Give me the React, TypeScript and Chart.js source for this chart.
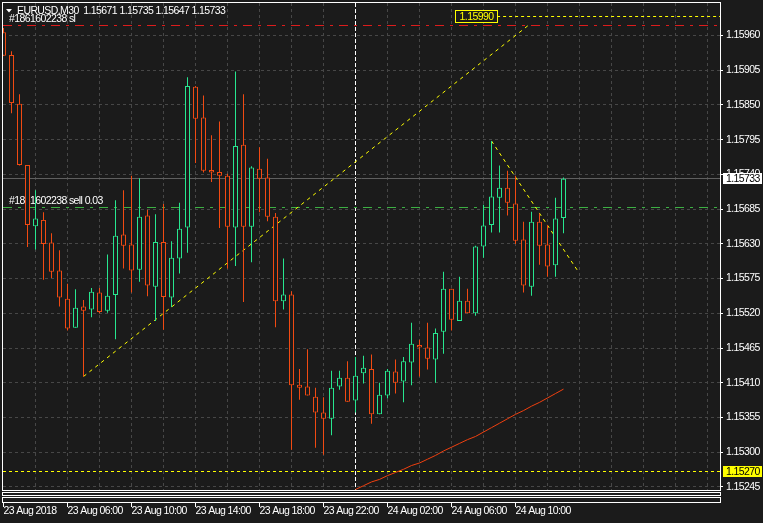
import React, { useEffect, useRef } from 'react';
import { Chart, registerables } from 'chart.js';

Chart.register(...registerables);

// ---------------- data ----------------
const SYMBOL = 'EURUSD,M30';

const OPEN = [
  1.15965, 1.15929, 1.15852, 1.15755, 1.15658, 1.15668, 1.15632, 1.15588, 1.15543, 1.15497,
  1.15531, 1.15526, 1.15553, 1.15524, 1.15549, 1.15645, 1.15629, 1.15589, 1.15675, 1.15562,
  1.15633, 1.15545, 1.15607, 1.15656, 1.15879, 1.15830, 1.15747, 1.15744, 1.15738, 1.15656,
  1.15787, 1.15657, 1.15749, 1.15735, 1.15673, 1.15539, 1.15550, 1.15407, 1.15404, 1.15388,
  1.15363, 1.15353, 1.15404, 1.15418, 1.15382, 1.15425, 1.15432, 1.15360, 1.15390, 1.15428,
  1.15412, 1.15442, 1.15470, 1.15466, 1.15447, 1.15491, 1.15559, 1.15508, 1.15540, 1.15520,
  1.15626, 1.15660, 1.15703, 1.15719, 1.15694, 1.15637, 1.15562, 1.15665, 1.15629, 1.15596,
  1.15671,
];
const HIGH = [
  1.15972, 1.15935, 1.15867, 1.15755, 1.15715, 1.15680, 1.15647, 1.15620, 1.15567, 1.15558,
  1.15541, 1.15560, 1.15560, 1.15613, 1.15699, 1.15715, 1.15738, 1.15734, 1.15684, 1.15677,
  1.15693, 1.15634, 1.15695, 1.15894, 1.15880, 1.15865, 1.15802, 1.15824, 1.15741, 1.15903,
  1.15867, 1.15753, 1.15783, 1.15765, 1.15679, 1.15607, 1.15555, 1.15432, 1.15463, 1.15402,
  1.15387, 1.15429, 1.15429, 1.15444, 1.15451, 1.15453, 1.15455, 1.15410, 1.15432, 1.15447,
  1.15451, 1.15505, 1.15478, 1.15505, 1.15496, 1.15586, 1.15559, 1.15578, 1.15559, 1.15627,
  1.15692, 1.15793, 1.15754, 1.15746, 1.15738, 1.15665, 1.15681, 1.15678, 1.15660, 1.15703,
  1.15735,
];
const LOW = [
  1.15928, 1.15837, 1.15754, 1.15625, 1.15621, 1.15573, 1.15576, 1.15531, 1.15493, 1.15497,
  1.15420, 1.15514, 1.15520, 1.15521, 1.15479, 1.15591, 1.15553, 1.15570, 1.15547, 1.15508,
  1.15494, 1.15530, 1.15583, 1.15616, 1.15758, 1.15743, 1.15728, 1.15655, 1.15591, 1.15595,
  1.15538, 1.15601, 1.15680, 1.15666, 1.15498, 1.15526, 1.15304, 1.15383, 1.15390, 1.15307,
  1.15296, 1.15327, 1.15399, 1.15380, 1.15363, 1.15409, 1.15345, 1.15360, 1.15385, 1.15393,
  1.15379, 1.15406, 1.15420, 1.15431, 1.15410, 1.15456, 1.15493, 1.15508, 1.15520, 1.15516,
  1.15608, 1.15648, 1.15648, 1.15675, 1.15630, 1.15553, 1.15548, 1.15597, 1.15578, 1.15578,
  1.15647,
];
const CLOSE = [
  1.15928, 1.15853, 1.15755, 1.15660, 1.15670, 1.15630, 1.15586, 1.15545, 1.15496, 1.15529,
  1.15524, 1.15554, 1.15522, 1.15548, 1.15643, 1.15627, 1.15588, 1.15673, 1.15564, 1.15633,
  1.15546, 1.15608, 1.15654, 1.15880, 1.15828, 1.15746, 1.15743, 1.15738, 1.15657, 1.15785,
  1.15657, 1.15751, 1.15733, 1.15673, 1.15539, 1.15550, 1.15406, 1.15402, 1.15390, 1.15363,
  1.15353, 1.15402, 1.15418, 1.15380, 1.15421, 1.15434, 1.15360, 1.15391, 1.15429, 1.15410,
  1.15444, 1.15472, 1.15466, 1.15448, 1.15489, 1.15559, 1.15510, 1.15540, 1.15520, 1.15626,
  1.15659, 1.15705, 1.15719, 1.15695, 1.15635, 1.15564, 1.15665, 1.15627, 1.15594, 1.15670,
  1.15733,
];

// indicator line (starts at bar 44)
const MA_START = 44;
const MA_LINE = [
  1.15241, 1.15247, 1.15253, 1.15257, 1.15263, 1.15268, 1.15273, 1.15279, 1.15283, 1.15289,
  1.15295, 1.15302, 1.15308, 1.15314, 1.15320, 1.15325, 1.15332, 1.15339, 1.15346, 1.15353,
  1.15360, 1.15366, 1.15373, 1.15379, 1.15386, 1.15393, 1.15400,
];

// trend lines (bar index, price)
const TREND_UP_X = [10, 65.7];
const TREND_UP_Y = [1.1542, 1.15977];
const TREND_DOWN_X = [61, 71.9];
const TREND_DOWN_Y = [1.15793, 1.15585];

// horizontal levels
const SL_PRICE = 1.15976;
const SL_LABEL = '#1861602238 sl';
const ORDER_PRICE = 1.15688;
const ORDER_LABEL = '#1861602238 sell 0.03';
const BID_PRICE = 1.15733;
const LEVEL_LOW = 1.1527;
const LEVEL_HIGH = 1.1599;
const LEVEL_HIGH_START = 61.7;
const SEPARATOR_BAR = 44;

// axes
const Y_TICKS = [
  1.15245, 1.153, 1.15355, 1.1541, 1.15465, 1.1552, 1.15575,
  1.1563, 1.15685, 1.1574, 1.15795, 1.1585, 1.15905, 1.1596,
];
const Y_TICK_LABELS = [
  '1.15245', '1.15300', '1.15355', '1.15410', '1.15465', '1.15520', '1.15575',
  '1.15630', '1.15685', '1.15740', '1.15795', '1.15850', '1.15905', '1.15960',
];
const X_GRID = [0, 4, 8, 12, 16, 20, 24, 28, 32, 36, 40, 44, 48, 52, 56, 60, 64, 68, 72, 76, 80, 84, 88];
const TIME_TICKS = [0, 8, 16, 24, 32, 40, 48, 56, 64];
const TIME_LABELS = [
  '23 Aug 2018', '23 Aug 06:00', '23 Aug 10:00', '23 Aug 14:00', '23 Aug 18:00',
  '23 Aug 22:00', '24 Aug 02:00', '24 Aug 06:00', '24 Aug 10:00',
];

const X_MIN = -0.0625;
const X_MAX = 89.5625;
const Y_MIN = 1.1524023;
const Y_MAX = 1.1601147;

// ---------------- style ----------------
const BG = '#1b1b1b';
const GRID = '#474747';
const BULL = '#27e68f';
const BEAR = '#f14a12';
const BODY_FILL = '#1b1b1b';
const YELLOW = '#ffff00';
const SL_RED = '#dc1c1c';
const ORDER_GREEN = '#3cb043';
const BID_GRAY = '#5f5f5f';
const MA_COLOR = '#f0400f';
const FONT = "'Liberation Sans', Arial, sans-serif";
const FONT_SIZE = 10.5;
const LETTER_SPACING = '-0.6px';

const snap = (v: number) => Math.floor(v) + 0.5;

const mtPlugin = {
  id: 'mtDecor',
  beforeDraw(chart: any) {
    const { ctx, width, height } = chart;
    try {
      ctx.letterSpacing = LETTER_SPACING;
    } catch (e) {
      /* ignore */
    }
    ctx.save();
    ctx.fillStyle = BG;
    ctx.fillRect(0, 0, width, height);
    ctx.restore();
  },
  beforeDatasetsDraw(chart: any) {
    const { ctx, chartArea: a, scales } = chart;
    const x = scales.x;
    const y = scales.y;
    ctx.save();
    ctx.beginPath();
    ctx.rect(a.left, a.top, a.right - a.left, a.bottom - a.top);
    ctx.clip();
    ctx.lineWidth = 1;

    // period separator
    const sx = snap(x.getPixelForValue(SEPARATOR_BAR));
    ctx.strokeStyle = '#ffffff';
    ctx.setLineDash([4, 2]);
    ctx.beginPath();
    ctx.moveTo(sx, a.top);
    ctx.lineTo(sx, a.bottom);
    ctx.stroke();

    const hline = (p: number, color: string, dash: number[], x0 = a.left) => {
      const py = snap(y.getPixelForValue(p));
      ctx.strokeStyle = color;
      ctx.setLineDash(dash);
      ctx.beginPath();
      ctx.moveTo(x0, py);
      ctx.lineTo(a.right, py);
      ctx.stroke();
      return py;
    };

    ctx.font = `${FONT_SIZE}px ${FONT}`;
    ctx.textBaseline = 'middle';
    ctx.textAlign = 'left';

    const slY = hline(SL_PRICE, SL_RED, [9, 6, 3, 6]);
    const orderY = hline(ORDER_PRICE, ORDER_GREEN, [9, 6, 3, 6]);
    hline(BID_PRICE, BID_GRAY, []);
    hline(LEVEL_LOW, YELLOW, [3, 3]);

    ctx.setLineDash([]);
    ctx.fillStyle = '#ffffff';
    ctx.fillText(SL_LABEL, 9, slY - 6);
    ctx.fillText(ORDER_LABEL, 9, orderY - 6);

    // 1.15990 level with label box
    const lx = x.getPixelForValue(LEVEL_HIGH_START);
    const ly = hline(LEVEL_HIGH, YELLOW, [3, 3], lx);
    ctx.setLineDash([]);
    const txt = LEVEL_HIGH.toFixed(5);
    const bw = 42;
    const bx = Math.round(lx - bw) + 0.5;
    ctx.fillStyle = BG;
    ctx.fillRect(bx, ly - 6, bw, 12);
    ctx.strokeStyle = YELLOW;
    ctx.strokeRect(bx, ly - 6, bw, 12);
    ctx.fillStyle = YELLOW;
    ctx.textAlign = 'center';
    ctx.fillText(txt, bx + bw / 2, ly + 0.5);
    ctx.restore();
  },
  afterDraw(chart: any) {
    const { ctx, chartArea: a, scales } = chart;
    const x = scales.x;
    const y = scales.y;
    ctx.save();
    ctx.lineWidth = 1;
    ctx.setLineDash([]);
    ctx.strokeStyle = '#ffffff';
    // main frame + collapsed sub windows
    ctx.strokeRect(a.left - 0.5, a.top - 0.5, a.right - a.left + 1, a.bottom - a.top + 1);
    ctx.strokeRect(a.left - 0.5, a.bottom + 2.5, a.right - a.left + 1, 3);
    ctx.strokeRect(a.left - 0.5, a.bottom + 7.5, a.right - a.left + 1, 5);
    // time tick marks
    ctx.beginPath();
    TIME_TICKS.forEach((k) => {
      const px = snap(x.getPixelForValue(k));
      ctx.moveTo(px, a.bottom + 13);
      ctx.lineTo(px, a.bottom + 17);
    });
    ctx.stroke();

    // price boxes on the axis
    ctx.font = `${FONT_SIZE}px ${FONT}`;
    ctx.textBaseline = 'middle';
    ctx.textAlign = 'left';
    const box = (p: number, bg: string) => {
      const py = snap(y.getPixelForValue(p));
      ctx.fillStyle = bg;
      ctx.fillRect(a.right + 3, py - 5.5, 39, 11);
      ctx.fillStyle = '#000000';
      ctx.fillText(p.toFixed(5), a.right + 6, py + 0.5);
    };
    box(BID_PRICE, '#ffffff');
    box(LEVEL_LOW, YELLOW);

    // header
    const last = OPEN.length - 1;
    ctx.fillStyle = '#ffffff';
    ctx.beginPath();
    ctx.moveTo(6, 9);
    ctx.lineTo(12, 9);
    ctx.lineTo(9, 12.5);
    ctx.closePath();
    ctx.fill();
    const head = `${SYMBOL}  ${OPEN[last].toFixed(5)} ${HIGH[last].toFixed(5)} ${LOW[last].toFixed(5)} ${CLOSE[last].toFixed(5)}`;
    ctx.fillText(head, 17, 11);
    ctx.restore();
  },
};

export default function App() {
  const ref = useRef<HTMLCanvasElement>(null);
  useEffect(() => {
    const colors = OPEN.map((o, i) => (CLOSE[i] >= o ? BULL : BEAR));
    const chart = new Chart(ref.current as HTMLCanvasElement, {
      type: 'bar',
      data: {
        datasets: [
          {
            type: 'bar',
            label: 'bodies',
            data: OPEN.map((o, i) => ({ x: i, y: [o, CLOSE[i]] })) as any,
            backgroundColor: BODY_FILL,
            borderColor: colors,
            borderWidth: 1,
            borderSkipped: false,
            barThickness: 5,
            grouped: false,
            inflateAmount: 0,
            order: 0,
          } as any,
          {
            type: 'bar',
            label: 'wicks',
            data: LOW.map((l, i) => ({ x: i, y: [l, HIGH[i]] })) as any,
            backgroundColor: colors,
            borderWidth: 0,
            barThickness: 1,
            grouped: false,
            inflateAmount: 0,
            order: 1,
          } as any,
          {
            type: 'line',
            label: 'ma',
            data: MA_LINE.map((v, i) => ({ x: MA_START + i, y: v })),
            borderColor: MA_COLOR,
            borderWidth: 1,
            pointRadius: 0,
            tension: 0,
            order: 2,
          } as any,
          {
            type: 'line',
            label: 'trendUp',
            data: TREND_UP_X.map((k, i) => ({ x: k, y: TREND_UP_Y[i] })),
            borderColor: YELLOW,
            borderWidth: 1,
            borderDash: [3.5, 4],
            pointRadius: 0,
            order: 3,
          } as any,
          {
            type: 'line',
            label: 'trendDown',
            data: TREND_DOWN_X.map((k, i) => ({ x: k, y: TREND_DOWN_Y[i] })),
            borderColor: YELLOW,
            borderWidth: 1,
            borderDash: [3.5, 3.7],
            pointRadius: 0,
            order: 3,
          } as any,
        ],
      },
      options: {
        responsive: false,
        animation: false,
        devicePixelRatio: 1,
        events: [],
        layout: { padding: { left: 3, top: 3, right: 0, bottom: 0 } },
        plugins: { legend: { display: false }, tooltip: { enabled: false } },
        scales: {
          x: {
            type: 'linear',
            position: 'bottom',
            min: X_MIN,
            max: X_MAX,
            bounds: 'data',
            offset: false,
            afterBuildTicks: (s: any) => {
              s.ticks = X_GRID.map((v) => ({ value: v }));
            },
            afterFit: (s: any) => {
              s.height = 33;
              s.paddingLeft = 0;
              s.paddingRight = 0;
            },
            grid: {
              offset: false,
              drawTicks: false,
              color: (c: any) => (c.tick && c.tick.value === 0 ? 'rgba(0,0,0,0)' : GRID),
              lineWidth: 1,
            },
            border: { display: false, dash: [3, 3] },
            ticks: {
              autoSkip: false,
              maxRotation: 0,
              minRotation: 0,
              align: 'start',
              padding: 15,
              color: '#ffffff',
              font: { family: FONT, size: FONT_SIZE },
              callback: (v: any) => {
                const idx = TIME_TICKS.indexOf(Number(v));
                return idx >= 0 ? TIME_LABELS[idx] : '';
              },
            },
          },
          y: {
            type: 'linear',
            position: 'right',
            min: Y_MIN,
            max: Y_MAX,
            bounds: 'data',
            beginAtZero: false,
            afterBuildTicks: (s: any) => {
              s.ticks = Y_TICKS.map((v) => ({ value: v }));
            },
            afterFit: (s: any) => {
              s.width = 43;
              s.paddingTop = 0;
              s.paddingBottom = 0;
            },
            grid: {
              color: GRID,
              lineWidth: 1,
              drawTicks: true,
              tickLength: 3,
              tickColor: '#ffffff',
              tickBorderDash: [],
            },
            border: { display: false, dash: [3, 3] },
            ticks: {
              padding: 3,
              color: '#ffffff',
              font: { family: FONT, size: FONT_SIZE },
              callback: (_v: any, i: number) => Y_TICK_LABELS[i],
            },
          },
        },
      } as any,
      plugins: [mtPlugin],
    });
    return () => chart.destroy();
  }, []);

  return (
    <div style={{ position: 'fixed', left: 0, top: 0, width: 763, height: 523, background: BG }}>
      <canvas ref={ref} width={763} height={523} style={{ display: 'block', width: 763, height: 523 }} />
    </div>
  );
}
